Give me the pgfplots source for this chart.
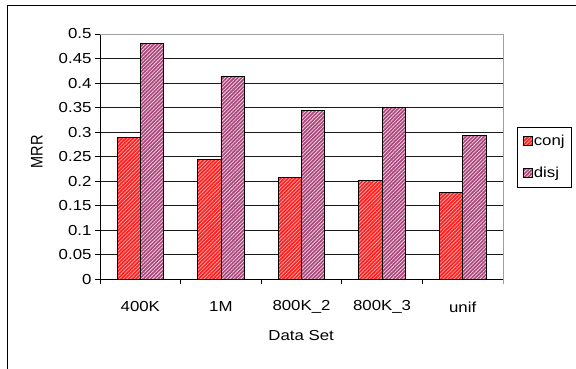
\documentclass[border=0pt]{standalone}
\usepackage{fontspec}
\setmainfont{Liberation Sans}
\usepackage{graphicx}
\usepackage{pgfplots}
\pgfplotsset{compat=1.18}
\usetikzlibrary{patterns.meta}

\definecolor{conjred}{HTML}{FF1E1E}
\definecolor{conjstripe}{HTML}{FFA8A8}
\definecolor{disjmauve}{HTML}{A8467A}
\definecolor{disjstripe}{HTML}{F2D2E2}
\definecolor{gridgray}{HTML}{1A1A1A}
\definecolor{boxgray}{HTML}{A0A0A0}

% wide-set text, as in the chart's labels
\newcommand{\sx}[1]{\scalebox{1.16}[1]{#1}}

\pgfplotsset{
  conjstyle/.style={draw=black, line width=0.8pt, fill=conjred,
    postaction={pattern={Lines[angle=45,distance=2.6pt,line width=0.75pt]}, pattern color=conjstripe}},
  disjstyle/.style={draw=black, line width=0.8pt, fill=disjmauve,
    postaction={pattern={Lines[angle=45,distance=2.6pt,line width=0.75pt]}, pattern color=disjstripe}},
}

\begin{document}
\begin{tikzpicture}
% outer chart frame
\draw[line width=1pt] (7.5pt,-5pt) -- (7.5pt,363.5pt) -- (590pt,363.5pt);
\begin{axis}[
  at={(100pt,89.7pt)}, anchor=south west,
  scale only axis, width=403pt, height=245.3pt,
  ybar=0pt, bar width=23.3pt,
  xmin=-0.5, xmax=4.5, ymin=0, ymax=0.5,
  axis x line*=bottom, axis y line*=left,
  axis line style={black, line width=0.9pt},
  tick align=outside,
  major tick length=5pt,
  tick style={black, line width=0.9pt},
  font=\fontsize{14.5}{17}\selectfont,
  xtick={-0.5,0.5,1.5,2.5,3.5,4.5},
  xticklabels={},
  extra x ticks={0,1,2,3,4},
  extra x tick labels={\sx{400K},\sx{1M},\sx{800K\_2},\sx{800K\_3},\sx{unif}},
  extra x tick style={major tick length=0pt, grid=none,
    xticklabel style={anchor=center, yshift=-27.7pt}},
  ytick={0,0.05,0.1,0.15,0.2,0.25,0.3,0.35,0.4,0.45,0.5},
  yticklabels={\sx{0},\sx{0.05},\sx{0.1},\sx{0.15},\sx{0.2},\sx{0.25},\sx{0.3},\sx{0.35},\sx{0.4},\sx{0.45},\sx{0.5}},
  ymajorgrids,
  grid style={gridgray, line width=0.9pt},
  xlabel={\sx{Data Set}},
  ylabel={\scalebox{1}[1.16]{MRR}},
  xlabel style={at={(axis description cs:0.499,-0.231)}, anchor=center},
  ylabel style={at={(axis description cs:-0.157,0.519)}, anchor=center},
  legend style={at={(rel axis cs:1.035,0.621)}, anchor=north west,
    draw=black, line width=0.8pt, inner xsep=5pt, inner ysep=8pt,
    font=\fontsize{14.5}{17}\selectfont, row sep=20pt,
    nodes={inner xsep=1.5pt, inner ysep=0pt}},
  legend cell align=left,
  legend image code/.code={\draw[#1] (2pt,-4.5pt) rectangle (11pt,4.5pt);},
  clip=false,
]
\addplot[conjstyle] coordinates {(0,0.290) (1,0.245) (2,0.208) (3,0.201) (4,0.177)};
\addplot[disjstyle] coordinates {(0,0.480) (1,0.414) (2,0.344) (3,0.350) (4,0.293)};
\legend{\sx{conj},\sx{disj}}
\draw[boxgray, line width=1pt] (rel axis cs:0,1) -- (rel axis cs:1,1) -- (rel axis cs:1,-0.02);
\end{axis}
\pgfresetboundingbox
\useasboundingbox (0,0) rectangle (576pt,369pt);
\end{tikzpicture}
\end{document}
